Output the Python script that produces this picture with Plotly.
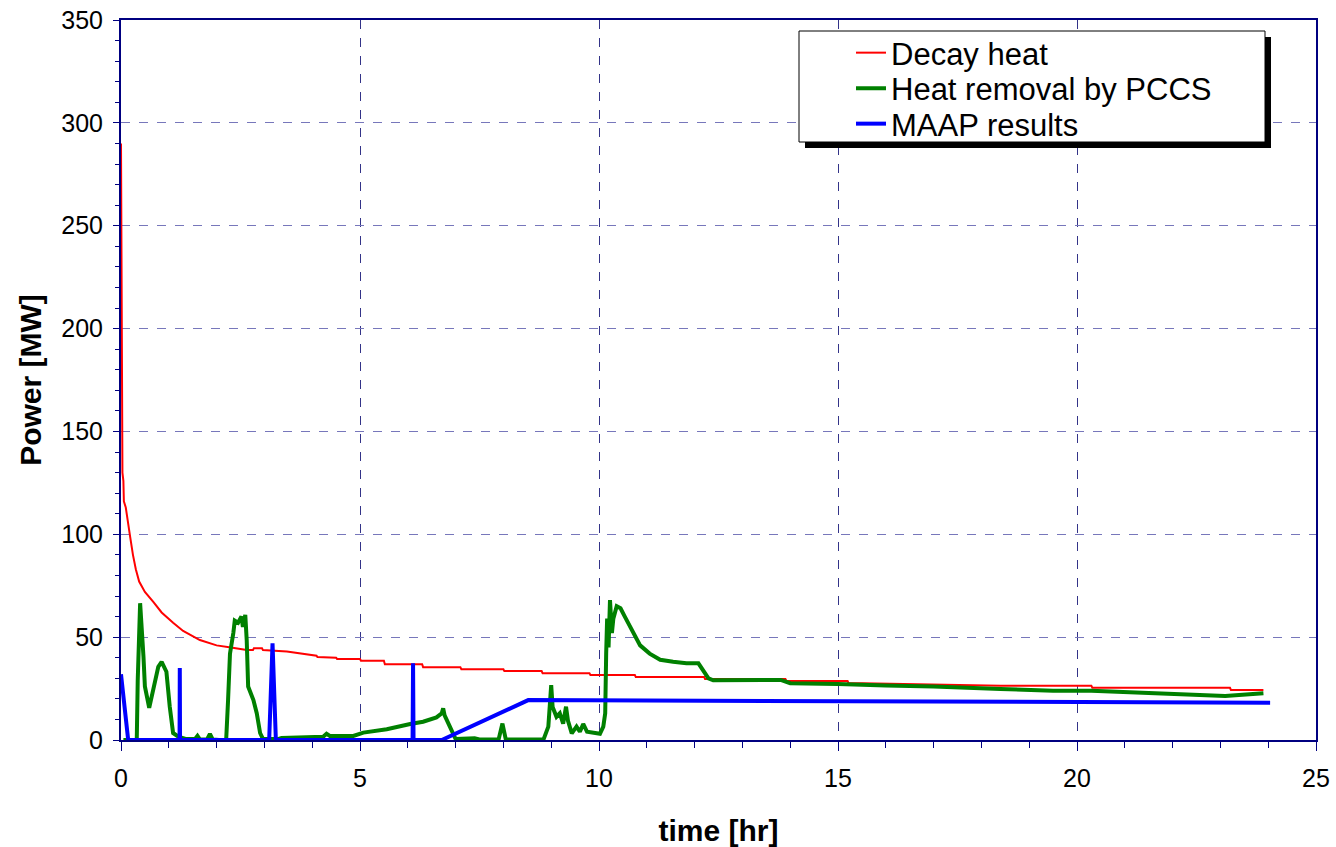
import plotly.graph_objects as go

# ---- data ----
decay_t = [0, 0.01, 0.03, 0.05, 0.06, 0.1, 0.15, 0.19, 0.25, 0.31, 0.38, 0.5, 0.68, 0.85,
           1.09, 1.3, 1.65, 2.0, 2.3, 2.63,
           2.76, 2.78, 2.95, 2.97, 3.47, 3.9, 4.09, 4.11, 4.5, 4.52, 5.0, 5.02, 5.5, 5.52,
           6.3, 6.32, 7.1, 7.12, 8.0, 8.02, 8.8, 8.82, 9.8, 9.82, 10.75, 10.77, 12.2, 12.22,
           13.9, 13.92, 15.2, 15.22, 18.4, 20.3, 20.32, 23.2, 23.22, 23.9]
decay_p = [290, 215, 130, 126, 116, 113, 104, 99, 90, 83, 77, 72, 67, 62,
           57, 53, 48.6, 46, 45, 43.7,
           43.7, 44.6, 44.6, 43.7, 43.0, 41.5, 41.0, 40.3, 40.0, 39.4, 39.4, 38.5, 38.5, 36.8,
           36.8, 35.4, 35.4, 34.4, 34.4, 33.5, 33.5, 32.5, 32.5, 31.6, 31.6, 30.6, 30.6, 29.6,
           29.6, 28.7, 28.7, 27.7, 26.4, 26.4, 25.4, 25.4, 24.3, 24.3]

pccs_t = [0.05, 0.33, 0.35, 0.4, 0.47, 0.5, 0.59, 0.67, 0.78, 0.85, 0.95, 1.02, 1.09, 1.2,
          1.35, 1.55, 1.6, 1.65, 1.8, 1.86, 1.92, 2.05, 2.2, 2.24, 2.28, 2.35, 2.38, 2.45,
          2.52, 2.55, 2.6, 2.63, 2.66, 2.77, 2.84, 2.91, 2.97, 3.3, 3.36, 4.23, 4.3, 4.37,
          4.86, 5.07, 5.56, 6.05, 6.32, 6.6, 6.71, 6.74, 6.77, 6.88, 7.0, 7.4, 7.5, 7.9,
          7.98, 8.05, 8.84, 8.94, 9.0, 9.03, 9.11, 9.18, 9.25, 9.31, 9.35, 9.43, 9.53,
          9.6, 9.67, 9.75, 10.02, 10.09, 10.13, 10.15, 10.17, 10.2, 10.23, 10.27, 10.3,
          10.37, 10.45, 10.54, 10.68, 10.86, 11.06, 11.28, 11.55, 11.83, 12.08, 12.18,
          12.29, 12.39, 13.0, 13.8, 14.0, 14.6, 15.0, 16.0, 17.0, 18.4, 19.5, 20.3,
          21.7, 23.1, 23.9]
pccs_p = [0, 0, 29, 66.5, 40.5, 26, 15.6, 24.3, 35.6, 38, 33.2, 16.2, 3.4, 1.6,
          0.5, 0.5, 2, 0.3, 0.3, 3, 0.2, 0, 0, 19.4, 42, 52, 58, 57,
          60, 55, 60.8, 48.6, 26, 19.4, 13, 3.4, 0.5, 0.5, 1, 1.6, 3, 2,
          2, 3.6, 5.2, 7.8, 8.9, 11, 13, 15.4, 12, 6.5, 0.5, 0.8, 0.3, 0.3,
          8, 0.3, 0.3, 6.5, 26.7, 16, 11.3, 13, 8, 16.2, 9.5, 3.2, 6.5,
          4, 7.8, 4, 3, 6.5, 13, 42, 59, 45, 68, 52, 59,
          65, 64, 60, 53.5, 46, 42, 39, 38, 37.3, 37.3, 34,
          30, 29, 29, 29.2, 27.6, 27.6, 27.2, 26.5, 26, 24.8, 24, 24,
          22.7, 21.4, 22.7]

maap_t = [0, 0.15, 1.225, 1.23, 1.235, 3.1, 3.17, 3.24, 6.1, 6.11, 6.12, 6.71, 8.52, 24.04]
maap_p = [32, 0, 0, 35, 0, 0, 47, 0, 0, 37.3, 0, 0, 19.4, 18.1]

x_ticks = [0, 5, 10, 15, 20, 25]
y_ticks = [0, 50, 100, 150, 200, 250, 300, 350]

NAVY = "#000080"
FONT = "Arial, Liberation Sans, sans-serif"

fig = go.Figure()
fig.add_trace(go.Scatter(x=decay_t, y=decay_p, mode="lines", name="Decay heat",
                         line=dict(color="#ff0000", width=2), legend="legend"))
fig.add_trace(go.Scatter(x=pccs_t, y=pccs_p, mode="lines", name="Heat removal by PCCS",
                         line=dict(color="#008000", width=4), legend="legend2"))
fig.add_trace(go.Scatter(x=maap_t, y=maap_p, mode="lines", name="MAAP results",
                         line=dict(color="#0000ff", width=4), legend="legend3"))

L, R, T, B = 121, 1316, 20, 740
W, H = 1336, 847


def px(xp):
    return (xp - L) / (R - L)


def py(yp):
    return (B - yp) / (B - T)


# legend box with shadow
fig.add_shape(type="rect", xref="paper", yref="paper", layer="above",
              x0=px(805), x1=px(1271), y0=py(148), y1=py(37),
              fillcolor="black", line=dict(width=0))
fig.add_shape(type="rect", xref="paper", yref="paper", layer="above",
              x0=px(799), x1=px(1265), y0=py(142), y1=py(31),
              fillcolor="white", line=dict(color="black", width=1))


def leg(ycenter):
    return dict(x=px(851), y=py(ycenter), xanchor="left", yanchor="middle",
                bgcolor="rgba(0,0,0,0)", borderwidth=0,
                font=dict(size=31, family=FONT, color="black"))


fig.update_layout(
    width=W, height=H,
    margin=dict(l=L, r=W - R, t=T, b=H - B),
    paper_bgcolor="white", plot_bgcolor="white",
    font=dict(family=FONT, color="black", size=25),
    showlegend=True,
    legend=leg(53), legend2=leg(88.5), legend3=leg(124),
    xaxis=dict(range=[0, 25], tickvals=x_ticks, ticks="outside", ticklen=9,
               tickcolor=NAVY, tickwidth=1, showline=True, linecolor=NAVY, linewidth=2,
               mirror=True, showgrid=True, gridcolor="#333388", griddash="dash",
               gridwidth=1, zeroline=False, ticklabelstandoff=6, automargin=False,
               tickfont=dict(size=25, family=FONT),
               minor=dict(dtick=1, ticks="outside", ticklen=6, tickcolor=NAVY, showgrid=False),
               title=dict(text="<b>time [hr]</b>", font=dict(size=30, family=FONT), standoff=30)),
    yaxis=dict(range=[0, 350], tickvals=y_ticks, ticks="outside", ticklen=6,
               tickcolor=NAVY, tickwidth=1, showline=True, linecolor=NAVY, linewidth=2,
               mirror=True, showgrid=True, gridcolor="#7777bb", griddash="dash",
               gridwidth=1, zeroline=False, ticklabelstandoff=5, automargin=False,
               tickfont=dict(size=25, family=FONT),
               minor=dict(dtick=10, ticks="outside", ticklen=4, tickcolor=NAVY, showgrid=False),
               title=dict(text="<b>Power [MW]</b>", font=dict(size=30, family=FONT), standoff=11)),
)

fig.write_html("out.html")
